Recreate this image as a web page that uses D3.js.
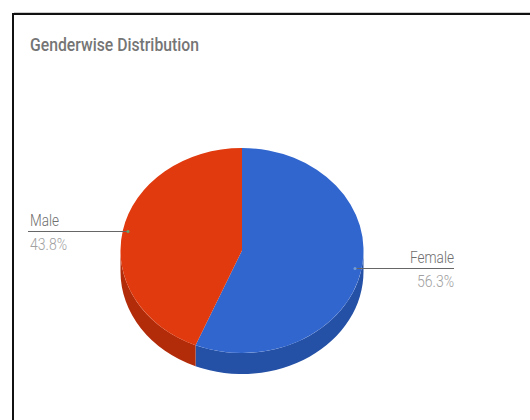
<!DOCTYPE html>
<html><head><meta charset="utf-8">
<style>html,body{margin:0;padding:0;background:#fff}svg{display:block}text{font-family:Roboto,sans-serif}</style>
<script src="https://cdn.jsdelivr.net/npm/d3@7/dist/d3.min.js"></script>
</head><body><svg id="c" width="530" height="420"></svg>
<script>
const categories = ["Female", "Male"];
const values = [56.3, 43.8];
const valueLabels = ["56.3%", "43.8%"];
const chartTitle = "Genderwise Distribution";
const topColors = ["#3166cf", "#e03a0e"];
const sideColors = ["#2450a6", "#b32c0a"];

const W = 530, H = 420;
const cx = 242, cy = 250.5, rx = 121.5, ry = 102.5, depth = 21;
const svg = d3.select("#c");

// frame of the screenshot (runs off the right and bottom edges)
svg.append("path").attr("d", `M13,${H}V14H${W}`).attr("fill", "none").attr("stroke", "#111").attr("stroke-width", 2);
svg.append("line").attr("x1", 14).attr("x2", W).attr("y1", 12.5).attr("y2", 12.5).attr("stroke", "#ccc");

svg.append("text").text(chartTitle).attr("x", 30).attr("y", 51)
  .attr("font-size", 17.5).attr("font-weight", 500).attr("fill", "#757575")
  .attr("textLength", 169).attr("lengthAdjust", "spacingAndGlyphs");

const slices = d3.pie().sort(null)(values);
const px = a => cx + rx * Math.sin(a);
const py = a => cy - ry * Math.cos(a);

// extruded side, only the front half of the ellipse is visible
const frontStart = Math.PI / 2, frontEnd = 3 * Math.PI / 2;
slices.forEach((s, i) => {
  const a0 = Math.max(s.startAngle, frontStart), a1 = Math.min(s.endAngle, frontEnd);
  if (a1 <= a0) return;
  svg.append("path").attr("fill", sideColors[i]).attr("d",
    `M${px(a0)},${py(a0)}A${rx},${ry} 0 0 1 ${px(a1)},${py(a1)}` +
    `L${px(a1)},${py(a1) + depth}A${rx},${ry} 0 0 0 ${px(a0)},${py(a0) + depth}Z`);
});

// top face
const arc = d3.arc().innerRadius(0).outerRadius(rx);
svg.append("g").attr("transform", `translate(${cx},${cy}) scale(1,${ry / rx})`)
  .selectAll("path").data(slices).join("path")
  .attr("d", arc).attr("fill", (d, i) => topColors[i]);

// leaders and labels
const leaders = [
  {x1: 355, x2: 454, y: 268.5, tx: 454, anchor: "end", dotX: 355, lw: 44, vw: 37},
  {x1: 28, x2: 128, y: 231.5, tx: 30, anchor: "start", dotX: 128, lw: 29, vw: 37}
];
leaders.forEach((l, i) => {
  svg.append("line").attr("x1", l.x1).attr("x2", l.x2).attr("y1", l.y).attr("y2", l.y)
    .attr("stroke", "#666").attr("stroke-width", 1);
  svg.append("circle").attr("cx", l.dotX).attr("cy", l.y).attr("r", 1.5)
    .attr("fill", i === 0 ? "#6f9bd8" : "#6f9e6a");
  svg.append("text").text(categories[i]).attr("x", l.tx).attr("y", l.y - 6)
    .attr("text-anchor", l.anchor).attr("font-size", 16).attr("font-weight", 300).attr("fill", "#6e6e6e")
    .attr("textLength", l.lw).attr("lengthAdjust", "spacingAndGlyphs");
  svg.append("text").text(valueLabels[i]).attr("x", l.tx).attr("y", l.y + 18)
    .attr("text-anchor", l.anchor).attr("font-size", 16).attr("font-weight", 300).attr("fill", "#a0a0a0")
    .attr("textLength", l.vw).attr("lengthAdjust", "spacingAndGlyphs");
});
</script></body></html>
